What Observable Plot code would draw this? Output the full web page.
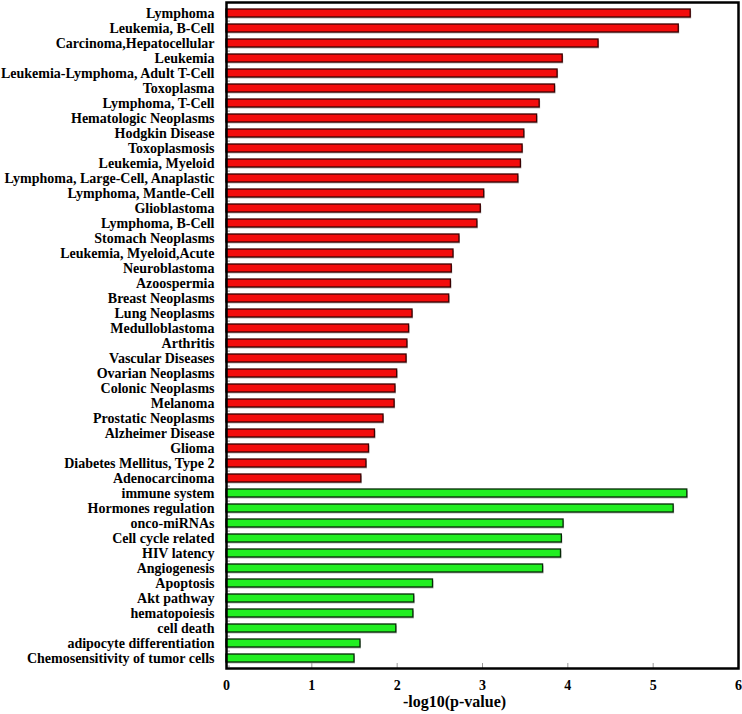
<!DOCTYPE html>
<html>
<head>
<meta charset="utf-8">
<script src="https://cdn.jsdelivr.net/npm/d3@7"></script>
<script src="https://cdn.jsdelivr.net/npm/@observablehq/plot@0.6"></script>
<style>
  html, body { margin: 0; padding: 0; background: #fff; }
  #chart svg { display: block; }
</style>
</head>
<body>
<div id="chart"></div>
<script>
const categories = [
  "Lymphoma", "Leukemia, B-Cell", "Carcinoma,Hepatocellular", "Leukemia",
  "Leukemia-Lymphoma, Adult T-Cell", "Toxoplasma", "Lymphoma, T-Cell",
  "Hematologic Neoplasms", "Hodgkin Disease", "Toxoplasmosis", "Leukemia, Myeloid",
  "Lymphoma, Large-Cell, Anaplastic", "Lymphoma, Mantle-Cell", "Glioblastoma",
  "Lymphoma, B-Cell", "Stomach Neoplasms", "Leukemia, Myeloid,Acute", "Neuroblastoma",
  "Azoospermia", "Breast Neoplasms", "Lung Neoplasms", "Medulloblastoma", "Arthritis",
  "Vascular Diseases", "Ovarian Neoplasms", "Colonic Neoplasms", "Melanoma",
  "Prostatic Neoplasms", "Alzheimer Disease", "Glioma", "Diabetes Mellitus, Type 2",
  "Adenocarcinoma",
  "immune system", "Hormones regulation", "onco-miRNAs", "Cell cycle related",
  "HIV latency", "Angiogenesis", "Apoptosis", "Akt pathway", "hematopoiesis",
  "cell death", "adipocyte differentiation", "Chemosensitivity of tumor cells"
];
const values = [
  5.44, 5.30, 4.36, 3.94, 3.88, 3.85, 3.67, 3.64, 3.49, 3.47, 3.45, 3.42, 3.02,
  2.98, 2.94, 2.73, 2.66, 2.64, 2.63, 2.61, 2.18, 2.14, 2.12, 2.11, 2.00, 1.98,
  1.97, 1.84, 1.74, 1.67, 1.64, 1.58,
  5.40, 5.24, 3.95, 3.93, 3.92, 3.71, 2.42, 2.20, 2.19, 1.99, 1.57, 1.50
];
const groups = [
  ...Array(32).fill("disease"),
  ...Array(12).fill("function")
];
const groupNames = ["disease", "function"];
const fillColors = ["#f20c0c", "#22ee22"];
const strokeColors = ["#3a0000", "#062806"];
const xTicks = [0, 1, 2, 3, 4, 5, 6];
const xTitle = "-log10(p-value)";

const data = categories.map((name, i) => ({name, value: values[i], group: groups[i]}));

const font = "'Liberation Serif', 'Times New Roman', serif";

const chart = Plot.plot({
  width: 742,
  height: 714,
  marginLeft: 226,
  marginRight: 4,
  marginTop: 2,
  marginBottom: 46,
  style: {fontFamily: font, fontWeight: "bold", fontSize: "14px", color: "black", background: "white"},
  x: {domain: [0, 6]},
  y: {domain: categories, paddingInner: 0.5, paddingOuter: 0.21},
  color: {domain: groupNames, range: fillColors},
  marks: [
    Plot.barX(data, {x: "value", y: "name", fill: "#b8b8b8", dx: 1, dy: 1.5}),
    Plot.barX(data, {
      x: "value", y: "name", fill: "group",
      stroke: d => strokeColors[groupNames.indexOf(d.group)],
      strokeWidth: 1.3
    }),
    Plot.tickY(categories, {y: d => d, dy: 7.6, insetRight: 508, stroke: "#999", strokeWidth: 1}),
    Plot.gridX(xTicks, {insetTop: 661, stroke: "#999", strokeOpacity: 1, strokeWidth: 1}),
    Plot.axisY({tickSize: 0, tickPadding: 12, label: null, fontSize: 14, fontWeight: "bold"}),
    Plot.axisX({ticks: xTicks, tickSize: 0, tickPadding: 12, tickFormat: d3.format("d"), label: null, fontSize: 14, fontWeight: "bold"}),
    Plot.text([xTitle], {text: d => d, frameAnchor: "bottom", dy: 38, dx: -28, fontSize: 16, fontWeight: "bold", fill: "black"}),
    Plot.frame({stroke: "black", strokeWidth: 2.5})
  ]
});
document.getElementById("chart").appendChild(chart);
</script>
</body>
</html>
